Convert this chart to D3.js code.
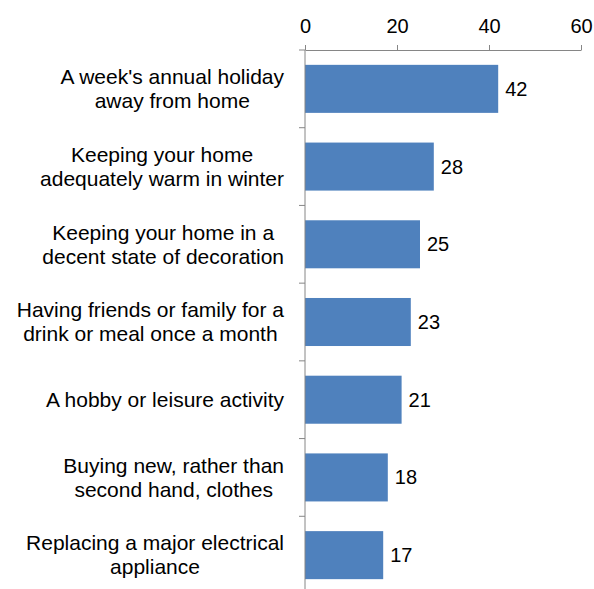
<!DOCTYPE html>
<html>
<head>
<meta charset="utf-8">
<script src="https://cdn.jsdelivr.net/npm/d3@7"></script>
<style>
  body { margin: 0; background: #fff; }
  text { font-family: "Liberation Sans", Arial, sans-serif; fill: #000; }
</style>
</head>
<body>
<div id="chart"></div>
<script>
// Chart data
var categories = [
    ["A week's annual holiday", "away from home"],
    ["Keeping your home", "adequately warm in winter"],
    ["Keeping your home in a", "decent state of decoration"],
    ["Having friends or family for a", "drink or meal once a month"],
    ["A hobby or leisure activity"],
    ["Buying new, rather than", "second hand, clothes"],
    ["Replacing a major electrical", "appliance"]
];
var values = [42, 28, 25, 23, 21, 18, 17];
var xTicks = [0, 20, 40, 60];

function init() {
    var w = 594,
        h = 589;
    var axisColor = "#868686",
        barColor = "#4f81bd";
    var fontSize = 20,
        catFontSize = 21;

    var svg = d3
        .select("#chart")
        .append("svg")
        .attr("width", w)
        .attr("height", h);

    var keys = categories.map((d, i) => "c" + i);

    var xScale = d3.scaleLinear().domain([0, 60]).range([305, 581]);

    var yScale = d3
        .scaleBand()
        .domain(keys)
        .range([50, 594])
        .paddingInner(0.382)
        .paddingOuter(0.191);

    // top axis
    var xAxis = d3.axisTop(xScale)
        .tickValues(xTicks)
        .tickSize(5)
        .tickSizeOuter(0)
        .tickPadding(12);

    var gx = svg.append("g")
        .attr("transform", "translate(0,50)")
        .call(xAxis);
    gx.select(".domain").attr("stroke", axisColor);
    gx.selectAll(".tick line").attr("stroke", axisColor);
    gx.selectAll(".tick text")
        .attr("font-size", fontSize + "px")
        .attr("font-family", "Liberation Sans, Arial, sans-serif")
        .attr("fill", "#000");

    // bars
    svg.selectAll("rect.bar")
        .data(values)
        .enter()
        .append("rect")
        .attr("class", "bar")
        .attr("x", xScale(0))
        .attr("y", (d, i) => yScale(keys[i]))
        .attr("width", d => xScale(d) - xScale(0))
        .attr("height", yScale.bandwidth())
        .attr("fill", barColor);

    // value labels
    svg.selectAll("text.val")
        .data(values)
        .enter()
        .append("text")
        .attr("class", "val")
        .attr("x", d => xScale(d) + 7)
        .attr("y", (d, i) => yScale(keys[i]) + yScale.bandwidth() / 2)
        .attr("dy", "0.35em")
        .attr("font-size", fontSize + "px")
        .text(d => d);

    // left axis line and category boundary ticks
    var step = yScale.step();
    var y0 = yScale(keys[0]) - step * yScale.paddingInner() / 2;
    svg.append("line")
        .attr("x1", xScale(0)).attr("x2", xScale(0))
        .attr("y1", 50).attr("y2", h)
        .attr("stroke", axisColor);
    svg.selectAll("line.ytick")
        .data(d3.range(categories.length + 1))
        .enter()
        .append("line")
        .attr("class", "ytick")
        .attr("x1", xScale(0) - 6).attr("x2", xScale(0))
        .attr("y1", d => y0 + d * step)
        .attr("y2", d => y0 + d * step)
        .attr("stroke", axisColor);

    // category labels: lines centred on each other, block right aligned
    var rightEdge = 284,
        lineH = 24;
    categories.forEach((lines, i) => {
        var cy = yScale(keys[i]) + yScale.bandwidth() / 2;
        var g = svg.append("g");
        var texts = g.selectAll("text")
            .data(lines)
            .enter()
            .append("text")
            .attr("font-size", catFontSize + "px")
            .attr("text-anchor", "middle")
            .attr("y", (d, j) => cy + (j - (lines.length - 1) / 2) * lineH)
            .attr("dy", "0.35em")
            .text(d => d);
        var maxW = d3.max(texts.nodes(), n => n.getComputedTextLength());
        texts.attr("x", rightEdge - maxW / 2);
    });
}

window.onload = init;
</script>
</body>
</html>
